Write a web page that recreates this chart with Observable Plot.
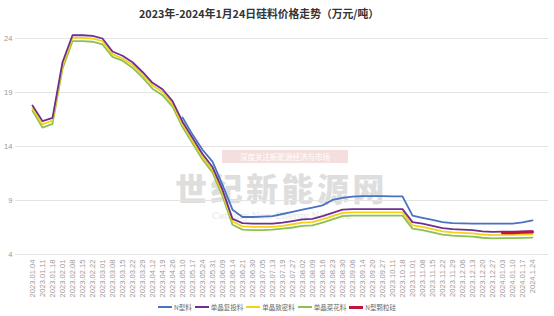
<!DOCTYPE html>
<html><head><meta charset="utf-8">
<script src="https://cdn.jsdelivr.net/npm/d3@7"></script>
<script src="https://cdn.jsdelivr.net/npm/@observablehq/plot@0.6"></script>
<style>
body{margin:0;background:#fff;font-family:"Noto Sans CJK SC","Noto Sans",sans-serif;}
#wrap{position:relative;width:554px;height:316px;overflow:hidden;background:#fff;}
#title{position:absolute;top:3px;left:259px;transform:translateX(-50%);font-size:10.8px;font-weight:bold;color:#333;white-space:nowrap;line-height:20px;}
#chart{position:absolute;top:26px;left:0;z-index:2;}
#legend{position:absolute;top:301px;left:158px;display:flex;align-items:center;gap:3px;font-size:6.5px;color:#666;white-space:nowrap;line-height:12px;}
#legend .it{display:flex;align-items:center;gap:2px;}
#legend .sw{display:inline-block;width:14px;height:2px;}
.wm{position:absolute;z-index:1;white-space:nowrap;}
#wm1{left:175px;top:164px;font-size:32px;line-height:46px;height:46px;letter-spacing:3.5px;font-weight:900;color:#dedede;font-family:"Noto Sans CJK SC",serif;}
#wm2{left:222px;top:150px;width:126px;height:13px;background:#f4dede;color:#fff;font-size:7.5px;line-height:13px;text-align:center;overflow:hidden;}
#wm3{left:212px;top:211px;font-size:9px;line-height:11px;color:#e6e6e6;font-family:"DejaVu Serif",serif;}
</style></head>
<body><div id="wrap">
<div id="title">2023年-2024年1月24日硅料价格走势（万元/吨）</div>
<div class="wm" id="wm2">深度关注新能源经济与市场</div>
<div class="wm" id="wm1">世纪新能源网</div>
<div class="wm" id="wm3">Century New Energy Network</div>
<div id="chart"></div>
<div id="legend"></div>
</div>
<script>
const dates = ["2023.01.04","2023.01.11","2023.01.18","2023.02.01","2023.02.08","2023.02.15","2023.02.22","2023.03.01","2023.03.08","2023.03.15","2023.03.22","2023.03.29","2023.04.12","2023.04.19","2023.04.26","2023.05.10","2023.05.17","2023.05.24","2023.05.31","2023.06.09","2023.06.14","2023.06.21","2023.06.30","2023.07.05","2023.07.13","2023.07.19","2023.07.27","2023.08.02","2023.08.09","2023.08.16","2023.08.23","2023.08.30","2023.09.06","2023.09.14","2023.09.20","2023.09.27","2023.10.11","2023.10.18","2023.11.01","2023.11.08","2023.11.15","2023.11.22","2023.11.29","2023.12.06","2023.12.13","2023.12.20","2023.12.27","2024.01.03","2024.01.10","2024.01.17","2024.1.24"];
const seriesNames = ["N型料","单晶复投料","单晶致密料","单晶菜花料","N型颗粒硅"];
const seriesColors = ["#4a72c0","#6f2f8f","#f2d21b","#8cc152","#c0143c"];
const yTicks = [4, 9, 14, 19, 24];
const nType = [null,null,null,null,null,null,null,null,null,null,null,null,null,null,null,
  16.7,15.1,13.7,12.6,10.45,8.15,7.47,7.47,7.5,7.55,7.75,7.95,8.15,8.35,8.55,9.05,9.25,9.35,9.4,9.4,9.4,9.38,9.38,
  7.6,7.4,7.2,7.0,6.9,6.88,6.85,6.85,6.85,6.85,6.85,6.98,7.16];
const fuTou = [17.8,16.35,16.65,21.8,24.3,24.3,24.25,24.0,22.8,22.4,21.8,20.9,19.9,19.3,18.2,
  16.3,14.8,13.3,12.1,10.0,7.3,6.9,6.85,6.85,6.85,
  6.95,7.1,7.25,7.3,7.55,7.85,8.15,8.2,8.2,8.2,8.2,8.2,8.2,
  7.0,6.85,6.65,6.45,6.35,6.3,6.25,6.15,6.1,6.12,6.12,6.14,6.17];
const miZhi = [17.55,16.05,16.4,21.5,24.05,24.05,24.0,23.75,22.55,22.15,21.55,20.65,19.65,19.05,17.95,
  16.05,14.55,13.05,11.85,9.7,7.05,6.6,6.55,6.55,6.55,
  6.65,6.8,6.95,7.0,7.25,7.55,7.85,7.9,7.9,7.9,7.9,7.9,7.9,
  6.7,6.55,6.35,6.15,6.05,6.0,5.95,5.85,5.8,5.82,5.82,5.84,5.87];
const caiHua = [17.3,15.75,16.1,21.2,23.75,23.75,23.7,23.45,22.3,21.95,21.3,20.4,19.35,18.75,17.7,
  15.8,14.3,12.8,11.6,9.4,6.75,6.3,6.25,6.25,6.3,
  6.4,6.5,6.65,6.7,6.95,7.25,7.55,7.6,7.6,7.6,7.6,7.6,7.6,
  6.4,6.25,6.05,5.85,5.75,5.7,5.65,5.55,5.5,5.52,5.52,5.54,5.57];
const keLi = [null,null,null,null,null,null,null,null,null,null,null,null,null,null,null,null,null,null,null,null,
  null,null,null,null,null,null,null,null,null,null,null,null,null,null,null,null,null,null,null,null,
  null,null,null,null,null,null,null,6.02,6.02,6.05,6.08];

const all = [nType, fuTou, miZhi, caiHua, keLi];
const rows = [];
all.forEach((arr, k) => arr.forEach((v, i) => { if (v != null) rows.push({date: dates[i], value: v, series: seriesNames[k]}); }));

const chart = Plot.plot({
  width: 554, height: 280,
  marginLeft: 15, marginRight: 6, marginTop: 12, marginBottom: 52,
  style: {background: "transparent", color: "#9a9a9a", fontSize: "7.6px", fontFamily: "'Liberation Sans', Arial, sans-serif", overflow: "visible"},
  x: {type: "point", domain: dates, padding: 0.55, label: null, tickRotate: -90, tickSize: 0, tickPadding: 5},
  y: {domain: [4, 24], ticks: yTicks, label: null, tickSize: 0, tickPadding: 3, tickFormat: d => String(d)},
  color: {domain: seriesNames, range: seriesColors},
  marks: [
    Plot.ruleY(yTicks, {stroke: "#e4e4e4", strokeWidth: 1}),
    Plot.line(rows.filter(d => d.series === "单晶菜花料"), {x: "date", y: "value", stroke: "series", strokeWidth: 1.8}),
    Plot.line(rows.filter(d => d.series === "单晶致密料"), {x: "date", y: "value", stroke: "series", strokeWidth: 1.8}),
    Plot.line(rows.filter(d => d.series === "单晶复投料"), {x: "date", y: "value", stroke: "series", strokeWidth: 1.8}),
    Plot.line(rows.filter(d => d.series === "N型料"), {x: "date", y: "value", stroke: "series", strokeWidth: 1.8}),
    Plot.line(rows.filter(d => d.series === "N型颗粒硅"), {x: "date", y: "value", stroke: "series", strokeWidth: 3})
  ]
});
document.getElementById("chart").appendChild(chart);

const leg = document.getElementById("legend");
seriesNames.forEach((n, k) => {
  const it = document.createElement("span"); it.className = "it";
  const sw = document.createElement("span"); sw.className = "sw"; sw.style.background = seriesColors[k];
  if (k === 4) sw.style.height = "3px";
  const tx = document.createElement("span"); tx.textContent = n;
  it.appendChild(sw); it.appendChild(tx); leg.appendChild(it);
});
</script>
</body></html>
